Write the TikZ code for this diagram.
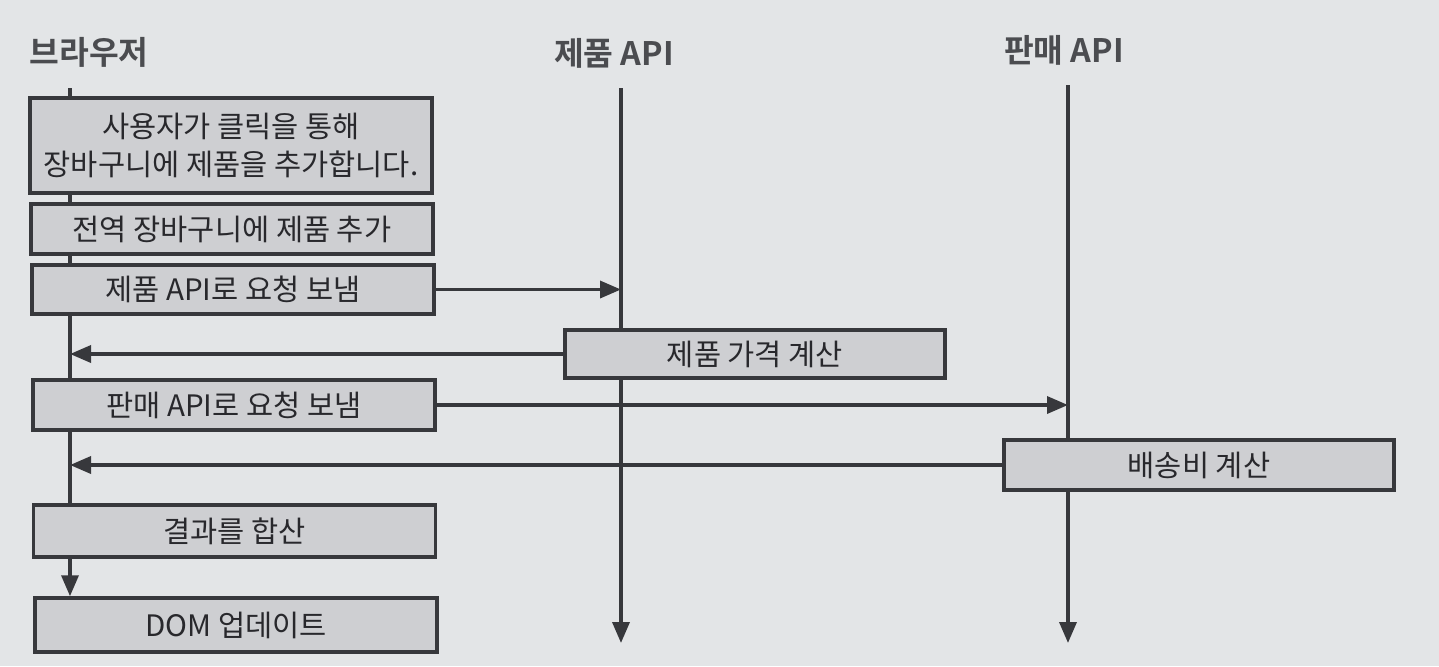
\documentclass[tikz,border=0pt]{standalone}
\usepackage{fontspec}
\setmainfont{Noto Sans CJK KR}
\newfontfamily\krbold{Noto Sans CJK KR Bold}
\usetikzlibrary{arrows.meta}
\definecolor{bgc}{RGB}{227,229,231}
\definecolor{boxc}{RGB}{206,207,210}
\definecolor{linec}{RGB}{55,56,60}
\definecolor{txtc}{RGB}{40,40,44}
\definecolor{ttlc}{RGB}{75,76,80}
\tikzset{
  stepbox/.style={draw=linec, line width=1pt, fill=boxc, minimum width=4.02cm, minimum height=0.5cm, inner sep=0pt, text=txtc, font=\fontsize{8.4}{10.8}\selectfont, align=center},
  title/.style={inner sep=0pt, text=ttlc, font=\krbold\fontsize{9.2}{10}\selectfont},
  life/.style={draw=linec, line width=1pt},
  arr/.style={draw=linec, line width=1pt, -{Triangle[length=0.21cm,width=0.17cm]}},
}
\begin{document}
\begin{tikzpicture}
\fill[bgc] (0,0) rectangle (14.39,-6.66);
\useasboundingbox (0,0) rectangle (14.39,-6.66);
% titles
\node[title] (tb) at (0.89,-0.52) {브라우저};
\node[title] (tp) at (6.14,-0.53) {제품 API};
\node[title] (ts) at (10.64,-0.50) {판매 API};
% lifeline anchors
\coordinate (p1top) at (0.70,-0.88);
\coordinate (p2top) at (6.21,-0.88);
\coordinate (p2bot) at (6.21,-6.43);
\coordinate (p3top) at (10.68,-0.85);
\coordinate (p3bot) at (10.68,-6.43);
% boxes
\node[stepbox, minimum height=0.95cm] (b1) at (2.31,-1.455) {사용자가 클릭을 통해\\장바구니에 제품을 추가합니다.};
\node[stepbox] (b2) at (2.32,-2.29) {전역 장바구니에 제품 추가};
\node[stepbox, minimum height=0.49cm] (b3) at (2.33,-2.895) {제품 API로 요청 보냄};
\node[stepbox, minimum width=3.80cm, minimum height=0.48cm] (b4) at (7.55,-3.54) {제품 가격 계산};
\node[stepbox] (b5) at (2.34,-4.05) {판매 API로 요청 보냄};
\node[stepbox, minimum width=3.90cm] (b6) at (11.99,-4.65) {배송비 계산};
\node[stepbox, minimum height=0.52cm] (b7) at (2.345,-5.31) {결과를 합산};
\node[stepbox, minimum height=0.54cm] (b8) at (2.36,-6.25) {DOM 업데이트};
% browser lifeline
\draw[life] (p1top) -- (b1.north -| p1top);
\draw[life] (b1.south -| p1top) -- (b2.north -| p1top);
\draw[life] (b2.south -| p1top) -- (b3.north -| p1top);
\draw[life] (b3.south -| p1top) -- (b5.north -| p1top);
\draw[life] (b5.south -| p1top) -- (b7.north -| p1top);
\draw[arr] (b7.south -| p1top) -- (b8.north -| p1top);
% product API lifeline
\draw[life] (p2top) -- (b4.north -| p2top);
\draw[arr] (b4.south -| p2top) -- (p2bot);
% sales API lifeline
\draw[life] (p3top) -- (b6.north -| p3top);
\draw[arr] (b6.south -| p3top) -- (p3bot);
% messages
\draw[arr] (b3.east) -- (b3.east -| p2top);
\draw[arr] (b4.west) -- (b4.west -| p1top);
\draw[arr] (b5.east) -- (b5.east -| p3top);
\draw[arr] (b6.west) -- (b6.west -| p1top);
\end{tikzpicture}
\end{document}
